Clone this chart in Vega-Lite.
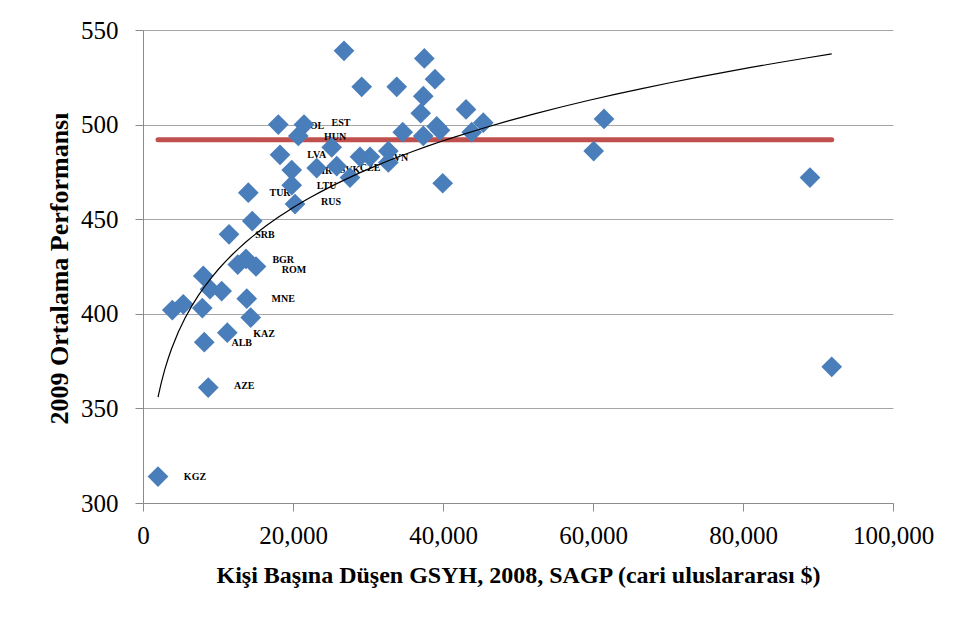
{
  "$schema": "https://vega.github.io/schema/vega-lite/v6.json",
  "width": 750,
  "height": 473,
  "autosize": {"type": "none"},
  "padding": {"left": 143, "top": 30, "right": 66, "bottom": 116},
  "background": "white",
  "config": {
    "view": {"stroke": null},
    "font": "Liberation Serif",
    "axisX": {
      "grid": false, "domainColor": "#8C8C8C", "tickColor": "#8C8C8C", "tickSize": 8,
      "labelFont": "Liberation Serif", "labelFontSize": 25, "labelColor": "black",
      "labelBaseline": "alphabetic", "labelPadding": 32, "labelFlush": false, "labelOverlap": false,
      "titleFont": "Liberation Serif", "titleFontSize": 24, "titleFontWeight": "bold", "titleColor": "black",
      "titleBaseline": "alphabetic", "titleY": 79, "titleX": 375, "titleAlign": "center"
    },
    "axisY": {
      "grid": true, "gridColor": "#A6A6A6", "gridWidth": 1,
      "domainColor": "#8C8C8C", "tickColor": "#8C8C8C", "tickSize": 8,
      "labelFont": "Liberation Serif", "labelFontSize": 25, "labelColor": "black",
      "labelBaseline": "middle", "labelPadding": 17, "labelFlush": false, "labelOverlap": false,
      "titleFont": "Liberation Serif", "titleFontSize": 26, "titleFontWeight": "bold", "titleColor": "black",
      "titleAngle": -90, "titleBaseline": "alphabetic", "titleAlign": "center", "titleX": -76, "titleY": 238
    }
  },
  "datasets": {
    "points": [
      {"gdp": 2000, "score": 314}, {"gdp": 8700, "score": 361}, {"gdp": 8170, "score": 385},
      {"gdp": 11240, "score": 390}, {"gdp": 14360, "score": 398}, {"gdp": 13830, "score": 408},
      {"gdp": 3910, "score": 402}, {"gdp": 5370, "score": 405}, {"gdp": 7910, "score": 403},
      {"gdp": 8040, "score": 420}, {"gdp": 8930, "score": 413}, {"gdp": 10490, "score": 412},
      {"gdp": 12630, "score": 426}, {"gdp": 13730, "score": 429}, {"gdp": 15070, "score": 425},
      {"gdp": 11470, "score": 442}, {"gdp": 14570, "score": 449}, {"gdp": 20270, "score": 458},
      {"gdp": 14040, "score": 464}, {"gdp": 19830, "score": 468}, {"gdp": 19830, "score": 476},
      {"gdp": 18270, "score": 484}, {"gdp": 18040, "score": 500}, {"gdp": 21470, "score": 500},
      {"gdp": 20710, "score": 494}, {"gdp": 25160, "score": 488}, {"gdp": 23160, "score": 477},
      {"gdp": 25830, "score": 478}, {"gdp": 27600, "score": 472}, {"gdp": 28930, "score": 483},
      {"gdp": 30270, "score": 483}, {"gdp": 32710, "score": 486}, {"gdp": 32710, "score": 480},
      {"gdp": 26800, "score": 539}, {"gdp": 29160, "score": 520}, {"gdp": 33830, "score": 520},
      {"gdp": 37510, "score": 535}, {"gdp": 38930, "score": 524}, {"gdp": 37370, "score": 515},
      {"gdp": 37030, "score": 506}, {"gdp": 43070, "score": 508}, {"gdp": 34630, "score": 496},
      {"gdp": 37370, "score": 494}, {"gdp": 39160, "score": 499}, {"gdp": 39600, "score": 497},
      {"gdp": 43830, "score": 496}, {"gdp": 45370, "score": 501}, {"gdp": 39960, "score": 469},
      {"gdp": 61470, "score": 503}, {"gdp": 60090, "score": 486}, {"gdp": 88930, "score": 472},
      {"gdp": 91830, "score": 372}
    ],
    "labels": [
      {"code": "KGZ", "gdp": 6930, "score": 313.6}, {"code": "AZE", "gdp": 13500, "score": 361.8},
      {"code": "ALB", "gdp": 13160, "score": 384.4}, {"code": "KAZ", "gdp": 16130, "score": 389.3},
      {"code": "MNE", "gdp": 18700, "score": 407.8}, {"code": "ROM", "gdp": 20130, "score": 423.2},
      {"code": "BGR", "gdp": 18700, "score": 428.4}, {"code": "SRB", "gdp": 16270, "score": 441.8},
      {"code": "TUR", "gdp": 18270, "score": 463.7}, {"code": "RUS", "gdp": 25070, "score": 459.2},
      {"code": "LTU", "gdp": 24490, "score": 467.5}, {"code": "HRV", "gdp": 24700, "score": 475.5},
      {"code": "SVK", "gdp": 27600, "score": 476.0}, {"code": "CZE", "gdp": 30270, "score": 476.9},
      {"code": "LVA", "gdp": 23160, "score": 483.9}, {"code": "SVN", "gdp": 34040, "score": 482.2},
      {"code": "HUN", "gdp": 25600, "score": 493.3}, {"code": "POL", "gdp": 22800, "score": 499.4},
      {"code": "EST", "gdp": 26400, "score": 500.7}
    ]
  },
  "layer": [
    {
      "data": {"name": "points"},
      "mark": {"type": "rule", "color": "#C0504D", "strokeWidth": 5, "strokeCap": "round"},
      "encoding": {
        "x": {
          "aggregate": "min", "field": "gdp", "type": "quantitative",
          "title": "Kişi Başına Düşen GSYH, 2008, SAGP (cari uluslararası $)",
          "scale": {"domain": [0, 100000], "nice": false, "zero": false},
          "axis": {"values": [0, 20000, 40000, 60000, 80000, 100000], "format": ",.0f"}
        },
        "x2": {"aggregate": "max", "field": "gdp"},
        "y": {
          "datum": 492, "type": "quantitative",
          "title": "2009 Ortalama Performansı",
          "scale": {"domain": [300, 550], "nice": false, "zero": false},
          "axis": {"values": [300, 350, 400, 450, 500, 550], "format": "d"}
        }
      }
    },
    {
      "data": {"name": "labels"},
      "mark": {"type": "text", "font": "Liberation Serif", "fontSize": 10, "fontWeight": "bold", "fill": "black", "opacity": 1, "align": "center", "baseline": "middle"},
      "encoding": {
        "x": {"field": "gdp", "type": "quantitative", "title": "Kişi Başına Düşen GSYH, 2008, SAGP (cari uluslararası $)", "axis": {"values": [0, 20000, 40000, 60000, 80000, 100000], "format": ",.0f"}},
        "y": {"field": "score", "type": "quantitative", "title": "2009 Ortalama Performansı", "axis": {"values": [300, 350, 400, 450, 500, 550], "format": "d"}},
        "text": {"field": "code"}
      }
    },
    {
      "data": {"name": "points"},
      "mark": {"type": "point", "shape": "diamond", "filled": true, "size": 430, "color": "#4A7EBB", "opacity": 1, "strokeWidth": 0},
      "encoding": {
        "x": {"field": "gdp", "type": "quantitative", "title": "Kişi Başına Düşen GSYH, 2008, SAGP (cari uluslararası $)", "axis": {"values": [0, 20000, 40000, 60000, 80000, 100000], "format": ",.0f"}},
        "y": {"field": "score", "type": "quantitative", "title": "2009 Ortalama Performansı", "axis": {"values": [300, 350, 400, 450, 500, 550], "format": "d"}}
      }
    },
    {
      "data": {"name": "points"},
      "transform": [{"regression": "score", "on": "gdp", "method": "pow"}],
      "mark": {"type": "line", "color": "black", "strokeWidth": 1.2},
      "encoding": {
        "x": {"field": "gdp", "type": "quantitative", "title": "Kişi Başına Düşen GSYH, 2008, SAGP (cari uluslararası $)", "axis": {"values": [0, 20000, 40000, 60000, 80000, 100000], "format": ",.0f"}},
        "y": {"field": "score", "type": "quantitative", "title": "2009 Ortalama Performansı", "axis": {"values": [300, 350, 400, 450, 500, 550], "format": "d"}}
      }
    }
  ]
}
